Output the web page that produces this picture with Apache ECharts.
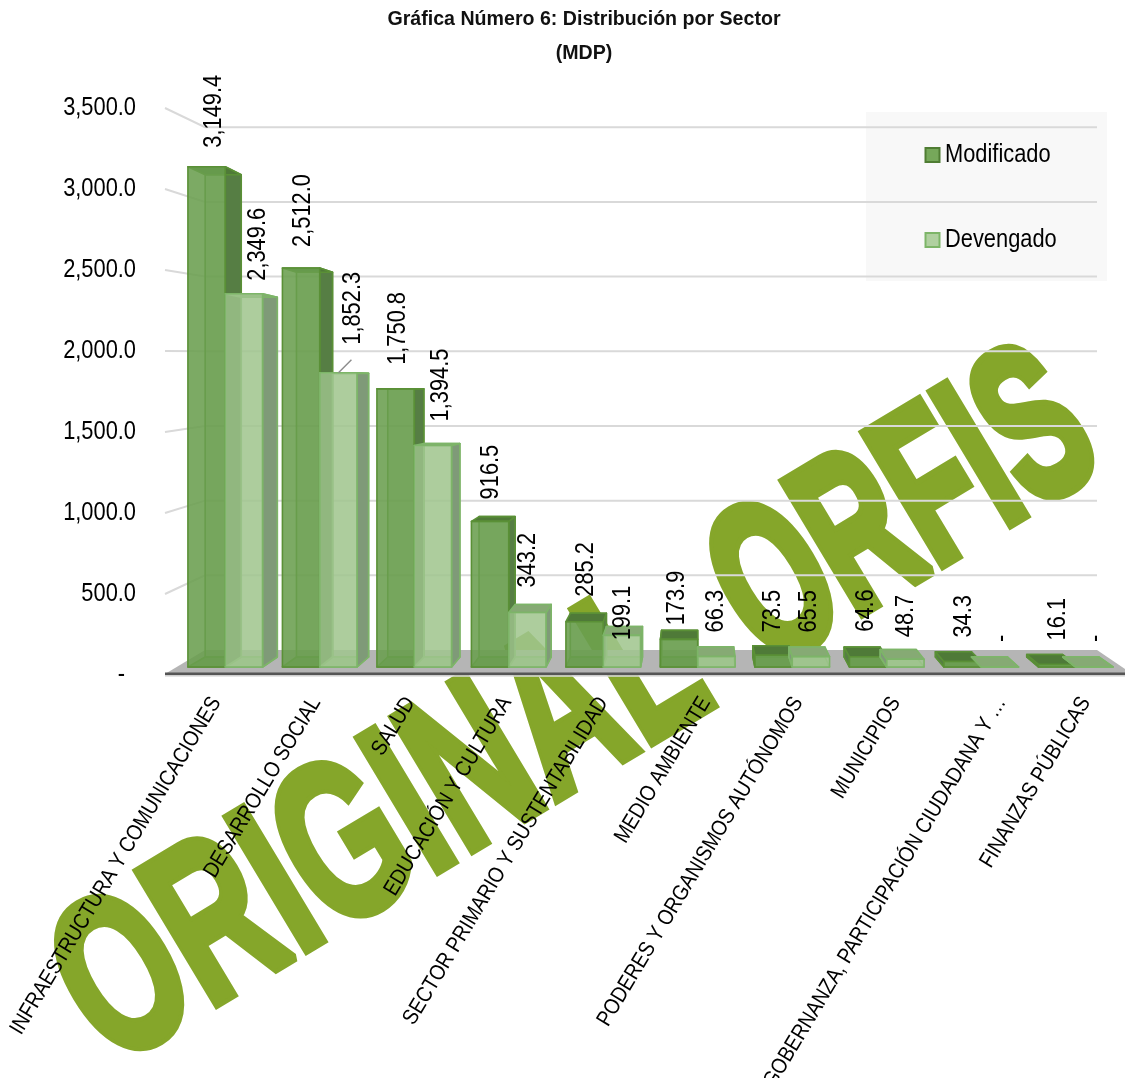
<!DOCTYPE html>
<html><head><meta charset="utf-8">
<script src="https://cdn.jsdelivr.net/npm/echarts@6/dist/echarts.min.js"></script>
<style>html,body{margin:0;padding:0;background:#fff}#c{width:1125px;height:1078px}</style>
</head><body><div id="c"></div>
<script>
const categories = ['INFRAESTRUCTURA Y COMUNICACIONES','DESARROLLO SOCIAL','SALUD','EDUCACIÓN Y CULTURA','SECTOR PRIMARIO Y SUSTENTABILIDAD','MEDIO AMBIENTE','PODERES Y ORGANISMOS AUTÓNOMOS','MUNICIPIOS','GOBERNANZA, PARTICIPACIÓN CIUDADANA Y …','FINANZAS PÚBLICAS'];
const modificado = [3149.4,2512.0,1750.8,916.5,285.2,173.9,73.5,64.6,34.3,16.1];
const devengado = [2349.6,1852.3,1394.5,343.2,199.1,66.3,65.5,48.7,0,0];
const yTicks = [0,500,1000,1500,2000,2500,3000,3500];
// label placement, kept apart from the values
const modLabelDx = [7,2,2,1,1,-2,-1,-2,1,1];
const modLabelGap = [19,21,24,22,25,14,23,25,24,24];
const devLabelDx = [14,14,8,0,1,-1,-2,0,2,1];
const devLabelGap = [13,28,24,25,-5,24,24,22,25,25];
const catLabelDx = [-7,-2,-2,0,2,10,8,11,22,12];

const FONT = '"Liberation Sans",Arial,sans-serif';
const NARROW = 0.84;
const fmt = v => v === 0 ? '-' : v.toLocaleString('en-US',{minimumFractionDigits:1,maximumFractionDigits:1});

function barSeries(name, values, offset, pal, dxs, gaps, leaderIdx){
  return {
    name, type:'custom', xAxisIndex:1, yAxisIndex:1, z:5,
    itemStyle:{color:pal.front, borderColor:pal.line, borderWidth:2},
    data: values.map((v,i)=>[i,v]),
    renderItem(params, api){
      const i = api.value(0), v = api.value(1);
      const top = api.coord([i,v]), base = api.coord([i,0]);
      const bw = api.size([1,0])[0]*0.395;
      const x0 = top[0]+offset*bw, x1 = x0+bw;
      const bx = x => x+(695-x)*0.034;
      const by = y => 657+(y-base[1])*0.964;
      const yt = top[1], yb = base[1], byt = by(yt), byb = by(yb);
      const bx0 = bx(x0), bx1 = bx(x1);
      const poly = (pts, fill, line) => ({type:'polygon', shape:{points:pts},
        style:{fill, stroke:line||pal.line, lineWidth:1.6, lineJoin:'round'}});
      const kids = [
        poly([[bx0,byt],[bx1,byt],[bx1,byb],[bx0,byb]], pal.back),
        poly([[x0,yb],[x1,yb],[bx1,byb],[bx0,byb]], pal.floor),
        bx1>x1 ? poly([[x1,yt],[bx1,byt],[bx1,byb],[x1,yb]], pal.side)
               : poly([[x0,yt],[bx0,byt],[bx0,byb],[x0,yb]], pal.side),
        poly([[x0,yt],[x1,yt],[bx1,byt],[bx0,byt]], pal.top),
        poly([[x0,yt],[x1,yt],[x1,yb],[x0,yb]], pal.front)
      ];
      const cx = (x0+x1)/2, lx = cx+dxs[i], ly = yt-gaps[i];
      if(i===leaderIdx) kids.push({type:'line', shape:{x1:cx,y1:yt,x2:cx+13,y2:yt-13}, style:{stroke:'#8c8c8c',lineWidth:1.4}});
      kids.push({type:'text', x:lx, y:ly, rotation:Math.PI/2, scaleX:NARROW, z2:50,
        style:{text:fmt(v), font:'26px '+FONT, fill:'#000', textAlign:'left', textVerticalAlign:'middle'}});
      return {type:'group', children:kids};
    }
  };
}

const modPal = {front:'rgba(106,158,78,0.88)', back:'rgba(106,158,78,0.35)', floor:'rgba(100,150,74,0.7)', side:'#567e44', top:'#4f7a38', line:'#5a9036'};
const devPal = {front:'rgba(160,198,142,0.8)', back:'rgba(160,198,142,0.35)', floor:'rgba(150,190,130,0.8)', side:'#7f9a78', top:'#86aa74', line:'#7db568'};
const wm = (t,x,y,fs,sx,rot,lw) => ({type:'text', z:-2, x, y, rotation:rot*Math.PI/180, scaleX:sx,
  style:{text:t, font:'bold '+fs+'px '+FONT, fill:'#85a62a', stroke:'#85a62a', lineWidth:lw, lineJoin:'miter', textAlign:'center', textVerticalAlign:'middle'}});
const legendItem = (label,y,fill,line) => [
  {type:'rect', z:20, shape:{x:925.5,y:y-7,width:14,height:14}, style:{fill, stroke:line, lineWidth:2}},
  {type:'text', z:20, x:945, y, scaleX:NARROW, style:{text:label, font:'26px '+FONT, fill:'#000', textAlign:'left', textVerticalAlign:'middle'}}
];

const option = {
  animation:false, backgroundColor:'#fff',
  textStyle:{fontFamily:FONT},
  title:{text:'Gráfica Número 6: Distribución por Sector\n(MDP)', left:579, top:-2, textAlign:'center',
    textStyle:{fontFamily:FONT, fontWeight:'bold', fontSize:19.6, lineHeight:34, color:'#111'}},
  legend:{show:false, data:['Modificado','Devengado']},
  grid:[
    {left:165, width:960, top:108, height:567, outerBoundsMode:'none'},
    {left:178, width:945, top:111, height:556, outerBoundsMode:'none'}
  ],
  xAxis:[
    {gridIndex:0, type:'value', min:0, max:1, show:false},
    {gridIndex:1, type:'category', data:categories, axisLine:{show:false}, axisTick:{show:false}, axisLabel:{show:false}}
  ],
  yAxis:[
    {gridIndex:0, type:'value', min:0, max:3500, interval:500, axisLine:{show:false}, axisTick:{show:false}, splitLine:{show:false}, axisLabel:{show:false}},
    {gridIndex:1, type:'value', min:0, max:3500, show:false, splitLine:{show:false}}
  ],
  graphic:[
    {type:'rect', z:-3, shape:{x:866,y:112,width:241,height:169}, style:{fill:'#f8f8f8'}},
    wm('ORIGINAL',383,832,225,0.645,31,9),
    wm('ORFIS',906,515,220,0.59,31,12),
    ...legendItem('Modificado',155,'#76a85a','#4f7d33'),
    ...legendItem('Devengado',240,'#b0d0a0','#7db568')
  ],
  series:[
    {type:'custom', name:'wall', xAxisIndex:0, yAxisIndex:0, z:1, silent:true,
     data:yTicks.map(v=>[0,v]),
     renderItem(params, api){
       const cs = params.coordSys, v = api.value(1), fy = api.coord([0,v])[1], zero = api.coord([0,0])[1];
       const wy = 650+(fy-zero)*0.922, wx0 = cs.x+40, wx1 = cs.x+cs.width-28;
       const kids = [];
       if(v===0){
         kids.push({type:'polygon', shape:{points:[[cs.x,zero-1],[wx0,650],[wx1,650],[cs.x+cs.width,zero-6],[cs.x+cs.width,zero]]}, style:{fill:'#b5b5b5'}});
         kids.push({type:'line', shape:{x1:cs.x,y1:zero-1,x2:cs.x+cs.width,y2:zero-1}, style:{stroke:'#555',lineWidth:3}});
         kids.push({type:'line', shape:{x1:cs.x,y1:zero+1,x2:cs.x+cs.width,y2:zero+1}, style:{stroke:'#ddd',lineWidth:1.5}});
       } else {
         kids.push({type:'polyline', shape:{points:[[cs.x,fy],[wx0,wy],[wx1,wy]]}, style:{fill:null, stroke:'#d9d9d9', lineWidth:2}});
       }
       kids.push({type:'text', x:v===0?125:136, y:fy, scaleX:NARROW, z2:50,
         style:{text:fmt(v), font:'26px '+FONT, fill:'#000', textAlign:'right', textVerticalAlign:'middle'}});
       return {type:'group', children:kids};
     }},
    barSeries('Modificado', modificado, -1, modPal, modLabelDx, modLabelGap, -1),
    barSeries('Devengado', devengado, 0, devPal, devLabelDx, devLabelGap, 1),
    {type:'custom', name:'categorias', xAxisIndex:1, yAxisIndex:1, z:6, silent:true,
     data:categories.map((c,i)=>[i,0]),
     renderItem(params, api){
       const i = api.value(0), p = api.coord([i,0]);
       return {type:'text', x:p[0]-2+catLabelDx[i], y:p[1]+32, rotation:59*Math.PI/180, scaleX:0.87,
         style:{text:categories[i], font:'22px '+FONT, fill:'#000', textAlign:'right', textVerticalAlign:'middle'}};
     }}
  ]
};
const chart = echarts.init(document.getElementById('c'), null, {renderer:'canvas'});
chart.setOption(option);
</script></body></html>
